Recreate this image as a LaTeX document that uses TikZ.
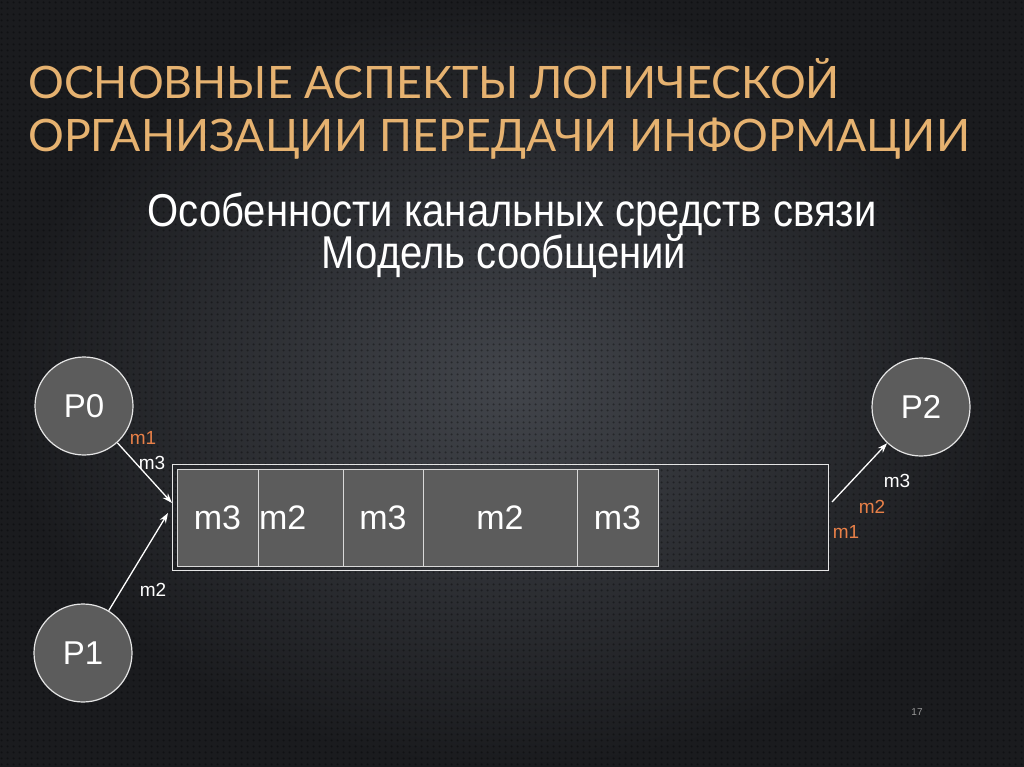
\documentclass[tikz,border=0pt]{standalone}
\usepackage{fontspec}
\setmainfont{Liberation Sans}
\newfontfamily\titlefont{Lato}
\newfontfamily\subfont[FakeStretch=0.87]{Liberation Sans}
\usetikzlibrary{arrows.meta,positioning,patterns.meta}

\definecolor{titleOrange}{RGB}{230,178,112}
\definecolor{msgOrange}{RGB}{232,128,72}
\definecolor{boxGray}{RGB}{92,92,92}
\definecolor{bgInner}{RGB}{66,69,75}
\definecolor{bgOuter}{RGB}{26,27,30}

% dotted texture of the slide
\tikzdeclarepattern{name=bgdots, type=uncolored,
  bounding box={(0pt,0pt) and (6pt,6pt)}, tile size={(6pt,6pt)},
  code={\fill (3pt,3pt) circle (1.3pt);}}

\begin{document}
\begin{tikzpicture}[x=1pt, y=-1pt,
		every node/.style={align=center, inner sep=0pt},
		procVertex/.style={draw=white!90!black, fill=boxGray, circle, minimum size=98pt, line width=1.2pt, text=white, font=\fontsize{33}{36}\selectfont},
		queueBox/.style={draw=white!90!black, line width=0.9pt, minimum width=656pt, minimum height=106pt},
		msgCell/.style={draw=white!85!black, fill=boxGray, line width=0.8pt, outer sep=0pt, minimum height=97pt, text height=23pt, text depth=0pt, text=white, font=\fontsize{34}{36}\selectfont},
		msgLabel/.style={font=\fontsize{19}{21}\selectfont, text=white},
		newLabel/.style={msgLabel, text=msgOrange},
		sendarrow/.style={draw=white, line width=1.3pt, -{Stealth[length=10pt,width=7pt]}}
	]

	% background
	\useasboundingbox (0,0) rectangle (1024,767);
	\shade[inner color=bgInner, outer color=bgOuter] (0,0) rectangle (1024,767);
	\fill[pattern=bgdots, pattern color=black, fill opacity=0.35] (0,0) rectangle (1024,767);

	% titles
	\node[anchor=base west, text=titleOrange, font=\titlefont\fontsize{44.7}{50}\selectfont] (T1) at (28,99) {ОСНОВНЫЕ АСПЕКТЫ ЛОГИЧЕСКОЙ};
	\node[anchor=base west, text=titleOrange, font=\titlefont\fontsize{44.7}{50}\selectfont] (T2) at (28,152) {ОРГАНИЗАЦИИ ПЕРЕДАЧИ ИНФОРМАЦИИ};
	\node[anchor=base, text=white, font=\subfont\fontsize{46}{50}\selectfont] (S1) at (512,226) {Особенности канальных средств связи};
	\node[anchor=base, text=white, font=\subfont\fontsize{46}{50}\selectfont] (S2) at (504,268) {Модель сообщений};

	% processes
	\node[procVertex] (P0) at (84,406) {P0};
	\node[procVertex] (P1) at (83,653) {P1};
	\node[procVertex] (P2) at (921,407) {P2};

	% message queue
	\node[queueBox] (Q) at (500,517) {};
	\node[msgCell, minimum width=81pt] (C1) at (217.5,517.5) {m3};
	\node[msgCell, right=0pt of C1, text width=83pt, inner sep=1pt, align=left] (C2) {m2};
	\node[msgCell, minimum width=80pt, right=0pt of C2] (C3) {m3};
	\node[msgCell, minimum width=154pt, right=0pt of C3] (C4) {m2};
	\node[msgCell, minimum width=81pt, right=0pt of C4] (C5) {m3};

	\coordinate (inA) at (172,503);
	\coordinate (inB) at (168,513);
	\coordinate (outQ) at (832,502);

	\draw[sendarrow] (P0) -- (inA);
	\draw[sendarrow] (P1) -- (inB);
	\draw[sendarrow] (outQ) -- (P2);

	% messages on the way
	\node[newLabel] (L01) at (143,438) {m1};
	\node[msgLabel] (L03) at (152,463) {m3};
	\node[msgLabel] (L12) at (153,590) {m2};
	\node[msgLabel] (R3) at (897,481) {m3};
	\node[newLabel] (R2) at (872,507) {m2};
	\node[newLabel] (R1) at (846,532) {m1};

	\node[text=gray!80, font=\fontsize{10}{12}\selectfont] (pg) at (917,712) {17};
\end{tikzpicture}
\end{document}
